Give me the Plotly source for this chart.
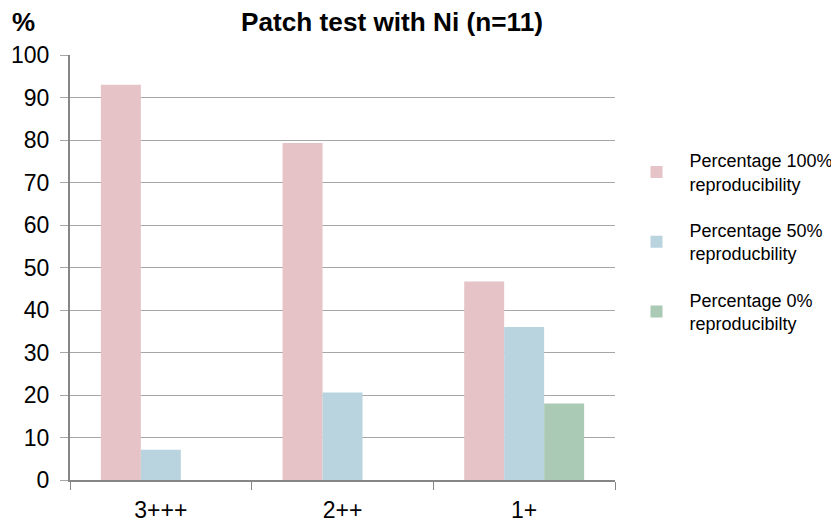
import plotly.graph_objs as go

categories = ['3+++', '2++', '1+']
pct_100 = [93, 79.3, 46.7]
pct_50 = [7.1, 20.6, 36]
pct_0 = [0, 0, 18]
series_names = ['Percentage 100%<br>reproducibility',
                'Percentage 50%<br>reproducbility',
                'Percentage 0%<br>reproducibilty']
colors = ['#E6C3C6', '#B9D4DE', '#ABCAB5']

fig = go.Figure()
for i, (name, vals) in enumerate(zip(series_names, [pct_100, pct_50, pct_0])):
    fig.add_trace(go.Bar(x=categories, y=vals, name=name, legendgroup=str(i),
                         marker=dict(color=colors[i], line=dict(width=0))))

# page body has an 8px margin, so the figure is drawn 8px smaller and offset
W, H = 831, 515
font = 'Liberation Sans, Arial, sans-serif'
fig.update_layout(
    width=W, height=H,
    margin=dict(l=62, r=224, t=47, b=43),
    plot_bgcolor='white', paper_bgcolor='white',
    font=dict(family=font, color='black'),
    barmode='group', bargap=0.34, bargroupgap=0,
    title=dict(text='<b>Patch test with Ni (n=11)</b>', font=dict(size=26.2, family=font),
               x=(392 - 70) / 545, xref='paper', xanchor='center',
               y=1 - 14 / H, yref='container', yanchor='middle'),
    legend=dict(xref='container', yref='container',
                x=615.5 / W, xanchor='left', y=1 - 234 / H, yanchor='middle',
                font=dict(size=18, family=font), tracegroupgap=20, itemwidth=56,
                bgcolor='rgba(0,0,0,0)'),
    annotations=[dict(text='<b>%</b>', xref='paper', yref='paper',
                      x=(23 - 70) / 545, y=(480 - 22) / 425, xanchor='center', yanchor='middle',
                      showarrow=False, font=dict(size=26, family=font))],
)
fig.update_yaxes(range=[0, 100], dtick=10, showgrid=True, gridcolor='#A6A6A6', gridwidth=1,
                 showline=True, linecolor='#868686', linewidth=2,
                 ticks='outside', ticklen=8, tickcolor='#A6A6A6', ticklabelstandoff=6,
                 tickfont=dict(size=23), zeroline=False, automargin=False)
fig.update_xaxes(type='category', showline=True, linecolor='#868686', linewidth=2,
                 ticks='outside', tickson='boundaries', ticklen=8, tickcolor='#868686',
                 ticklabelstandoff=8, tickfont=dict(size=23), automargin=False)

fig.write_html("out.html")
